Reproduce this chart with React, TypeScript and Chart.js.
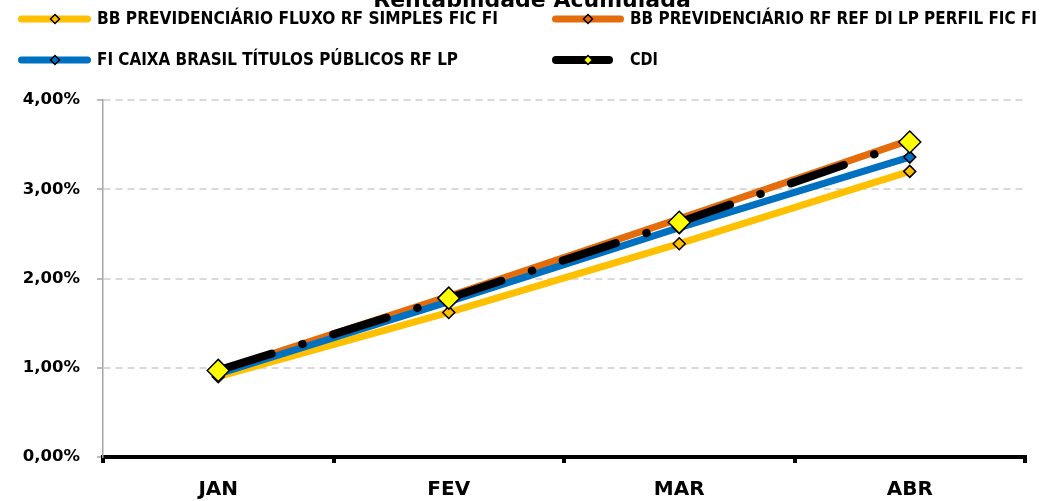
import React, { useEffect, useRef } from 'react';
import { Chart, registerables } from 'chart.js';

Chart.register(...registerables);

// ---------- data ----------
const categories = ['JAN', 'FEV', 'MAR', 'ABR'];
const seriesNames = [
  'BB PREVIDENCIÁRIO FLUXO RF SIMPLES FIC FI',
  'BB PREVIDENCIÁRIO RF REF DI LP PERFIL FIC FI',
  'FI CAIXA BRASIL TÍTULOS PÚBLICOS RF LP',
  'CDI',
];
const bbFluxo = [0.9, 1.62, 2.39, 3.2];
const bbPerfil = [0.96, 1.8, 2.67, 3.55];
const caixaTitulos = [0.93, 1.74, 2.57, 3.36];
const cdi = [0.97, 1.78, 2.63, 3.53];
const yTickLabels = ['0,00%', '1,00%', '2,00%', '3,00%', '4,00%'];
const titleText = 'Rentabilidade Acumulada';

// ---------- styles ----------
const YELLOW = '#FFC000';
const ORANGE = '#E46C0A';
const BLUE = '#0070C0';
const BLACK = '#000000';
const CDI_MARK = '#FFFF00';
const FONT = '"DejaVu Sans", sans-serif';

const legendLayout = [
  { idx: 0, line: YELLOW, mark: YELLOW, x0: 18, x1: 91, y: 19, mx: 55, tx: 97, tw: 401, lw: 7 },
  { idx: 1, line: ORANGE, mark: ORANGE, x0: 552, x1: 624, y: 19, mx: 588, tx: 630, tw: 407, lw: 7 },
  { idx: 2, line: BLUE, mark: BLUE, x0: 18, x1: 91, y: 60, mx: 55, tx: 97, tw: 361, lw: 7 },
  { idx: 3, line: BLACK, mark: CDI_MARK, x0: 552, x1: 613, y: 60, mx: 588, tx: 630, tw: 28, lw: 8 },
];

function diamond(ctx: CanvasRenderingContext2D, x: number, y: number, r: number, fill: string) {
  ctx.beginPath();
  ctx.moveTo(x - r, y);
  ctx.lineTo(x, y - r);
  ctx.lineTo(x + r, y);
  ctx.lineTo(x, y + r);
  ctx.closePath();
  ctx.fillStyle = fill;
  ctx.fill();
  ctx.lineWidth = 1.5;
  ctx.strokeStyle = '#000';
  ctx.stroke();
}

const decorPlugin = {
  id: 'decor',
  afterDraw(chart: any) {
    const ctx: CanvasRenderingContext2D = chart.ctx;
    ctx.save();
    ctx.fillStyle = '#000';
    ctx.textAlign = 'center';
    ctx.textBaseline = 'alphabetic';
    ctx.font = `bold 22px ${FONT}`;
    ctx.fillText(titleText, 532, 7, 339);

    for (const it of legendLayout) {
      ctx.beginPath();
      ctx.lineCap = 'round';
      ctx.lineWidth = it.lw;
      ctx.strokeStyle = it.line;
      ctx.setLineDash([]);
      ctx.moveTo(it.x0 + it.lw / 2, it.y);
      ctx.lineTo(it.x1 - it.lw / 2, it.y);
      ctx.stroke();
      diamond(ctx, it.mx, it.y, 4.5, it.mark);
      ctx.fillStyle = '#000';
      ctx.textAlign = 'left';
      ctx.textBaseline = 'middle';
      ctx.font = `bold 17px ${FONT}`;
      ctx.fillText(seriesNames[it.idx], it.tx, it.y + 1, it.tw);
    }
    ctx.restore();
  },
};

export default function App() {
  const ref = useRef<HTMLCanvasElement>(null);

  useEffect(() => {
    if (!ref.current) return;
    const fundDs = (label: string, data: number[], color: string, order: number) => ({
      label,
      data,
      borderColor: color,
      backgroundColor: color,
      borderWidth: 7,
      borderCapStyle: 'round' as const,
      borderJoinStyle: 'round' as const,
      pointStyle: 'rectRot' as const,
      pointRadius: 6,
      pointBackgroundColor: color,
      pointBorderColor: '#000',
      pointBorderWidth: 1.5,
      tension: 0,
      order,
    });

    const chart = new Chart(ref.current, {
      type: 'line',
      data: {
        labels: categories,
        datasets: [
          fundDs(seriesNames[0], bbFluxo, YELLOW, 3),
          fundDs(seriesNames[1], bbPerfil, ORANGE, 2),
          fundDs(seriesNames[2], caixaTitulos, BLUE, 1),
          {
            label: seriesNames[3],
            data: cdi,
            borderColor: BLACK,
            backgroundColor: CDI_MARK,
            borderWidth: 8,
            borderDash: [56, 32, 0.5, 32],
            borderCapStyle: 'round',
            pointStyle: 'rectRot',
            pointRadius: 11,
            pointBackgroundColor: CDI_MARK,
            pointBorderColor: '#000',
            pointBorderWidth: 1.5,
            tension: 0,
            order: 0,
          } as any,
        ],
      },
      options: {
        responsive: false,
        animation: false,
        layout: { padding: { top: 100, right: 17, left: 0, bottom: 0 } },
        plugins: {
          legend: { display: false },
          title: { display: false },
          tooltip: { enabled: false },
        },
        scales: {
          x: {
            offset: true,
            afterFit: (s: any) => {
              s.height = 44;
            },
            grid: {
              offset: true,
              drawOnChartArea: false,
              drawTicks: true,
              tickLength: 6,
              tickWidth: 4,
              tickColor: '#000',
              lineWidth: 4,
              color: '#000',
            },
            border: { display: true, color: '#000', width: 4 },
            ticks: {
              color: '#000',
              font: { family: FONT, weight: 'bold', size: 20 },
              padding: 15,
              maxRotation: 0,
            },
          },
          y: {
            min: 0,
            max: 4,
            afterFit: (s: any) => {
              s.width = 103;
            },
            grid: {
              color: (c: any) => (c.tick && c.tick.value === 0 ? 'rgba(0,0,0,0)' : '#D9D9D9'),
              lineWidth: 2,
              drawTicks: true,
              tickLength: 6,
              tickColor: '#A6A6A6',
              tickWidth: 1.5,
            },
            border: { display: true, color: '#A6A6A6', width: 1.5, dash: [7, 5] },
            ticks: {
              stepSize: 1,
              color: '#000',
              padding: 17,
              font: { family: FONT, weight: 'bold', size: 16.5 },
              callback: (v: any) => yTickLabels[Math.round(Number(v))],
            },
          },
        },
      },
      plugins: [decorPlugin],
    });
    return () => chart.destroy();
  }, []);

  return (
    <div style={{ position: 'absolute', left: 0, top: 0, width: 1042, height: 501, background: '#fff' }}>
      <canvas ref={ref} width={1042} height={501} />
    </div>
  );
}
